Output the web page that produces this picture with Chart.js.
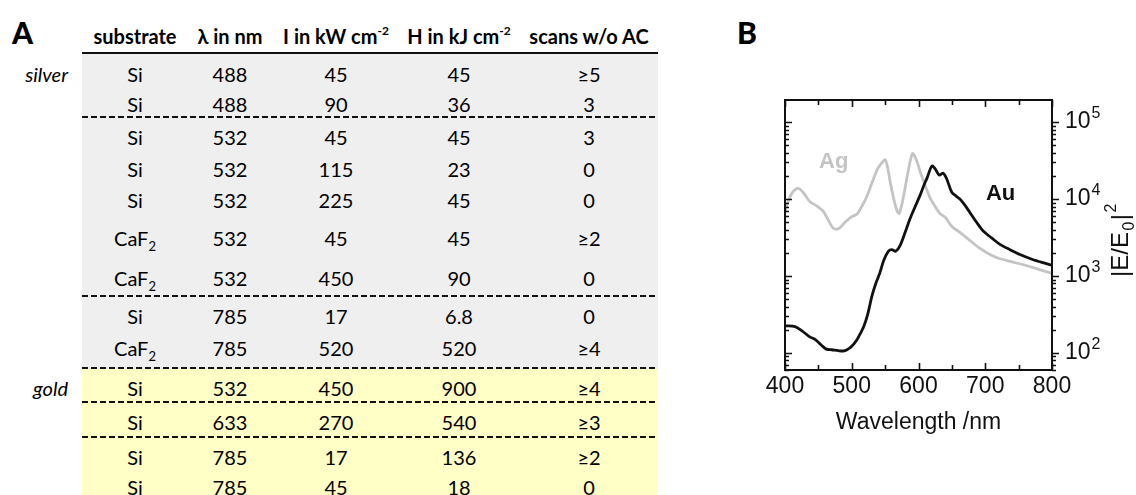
<!DOCTYPE html>
<html>
<head>
<meta charset="utf-8">
<script src="https://cdn.jsdelivr.net/npm/chart.js@4.4.1/dist/chart.umd.min.js"></script>
<style>
  body { margin: 0; width: 1136px; height: 495px; overflow: hidden; background: #fff; position: relative; font-family: Lato, "Open Sans", sans-serif; color: #000; }
  .panel { position: absolute; font-family: Lato, sans-serif; font-weight: 900; font-size: 30px; line-height: 30px; }
  .cell { position: absolute; width: 140px; margin-left: -70px; text-align: center; font-size: 20px; line-height: 24px; height: 24px; white-space: nowrap; }
  .hd { font-weight: 700; }
  .grp { position: absolute; left: 0; width: 68px; text-align: right; font-style: italic; font-size: 20px; line-height: 24px; }
  .sub { font-size: 13px; position: relative; top: 5px; }
  .sup { font-size: 12px; position: relative; top: -9px; }
  .band { position: absolute; left: 82px; width: 576px; }
  .dash { position: absolute; left: 82px; width: 576px; height: 2px; background: repeating-linear-gradient(90deg, #111 0 6px, transparent 6px 9px); }
  #chartBox { position: absolute; left: 700px; top: 60px; width: 436px; height: 435px; }
</style>
</head>
<body>
<div class="panel" style="left:12px;top:17px">A</div>
<div class="panel" style="left:737px;top:17px">B</div>
<div id="table"></div>
<div id="chartBox"><canvas id="spectrum-chart"></canvas></div>
<script>
// table A
const headers = ["substrate", "λ in nm", "I in kW cm<span class='sup'>-2</span>", "H in kJ cm<span class='sup'>-2</span>", "scans w/o AC"];
const metals = ["silver", "silver", "silver", "silver", "silver", "silver", "silver", "silver", "silver", "gold", "gold", "gold", "gold"];
const substrates = ["Si", "Si", "Si", "Si", "Si", "CaF2", "CaF2", "Si", "CaF2", "Si", "Si", "Si", "Si"];
const wavelengths = ["488", "488", "532", "532", "532", "532", "532", "785", "785", "532", "633", "785", "785"];
const intensities = ["45", "90", "45", "115", "225", "45", "450", "17", "520", "450", "270", "17", "45"];
const fluences = ["45", "36", "45", "23", "45", "45", "90", "6.8", "520", "900", "540", "136", "18"];
const scans = ["≥5", "3", "3", "0", "0", "≥2", "0", "0", "≥4", "≥4", "≥3", "≥2", "0"];
const breaksAfter = [1, 6, 8, 9, 10];

// chart B
const auWavelength = [400, 415, 425, 437, 445, 455, 462, 470, 480, 487, 493, 500, 507, 513, 518, 524, 530, 536, 542, 548, 555, 560, 566, 572, 580, 587, 595, 602, 608, 613, 620, 625, 631, 637, 642, 650, 656, 662, 670, 677, 687, 697, 710, 722, 737, 752, 770, 785, 800];
const auField = [225, 220, 195, 162, 150, 125, 112, 110, 107, 106, 110, 122, 145, 180, 220, 320, 540, 800, 1090, 1600, 2100, 2200, 2100, 2440, 3700, 5470, 8000, 11000, 15000, 19000, 26800, 24700, 20500, 21700, 18500, 12200, 11000, 10000, 8200, 6700, 5000, 3840, 3100, 2580, 2200, 1900, 1650, 1500, 1380];
const agWavelength = [400, 405, 412, 420, 428, 437, 447, 457, 465, 472, 480, 490, 500, 508, 515, 522, 530, 538, 543, 550, 554, 558, 563, 568, 571, 575, 580, 585, 591, 597, 603, 610, 617, 625, 632, 640, 650, 662, 675, 690, 705, 720, 740, 760, 780, 800];
const agField = [6800, 9500, 12500, 13800, 12000, 9300, 8200, 7000, 5300, 4200, 4100, 5000, 5900, 6400, 8000, 10500, 16000, 24000, 28000, 32500, 25000, 16000, 10000, 7000, 6500, 8500, 14000, 24000, 39000, 32000, 22000, 15000, 10500, 8000, 6500, 5800, 4400, 3700, 3000, 2350, 1950, 1700, 1530, 1380, 1220, 1080];
const xTicks = [400, 500, 600, 700, 800];
const decades = [100, 1000, 10000, 100000];

(function() {
  const table = document.getElementById("table");
  const colX = [135, 230, 336, 459, 589];
  const rowTop = [55, 85, 118, 150, 181, 219, 259, 297, 329, 369, 403, 438, 468];
  const add = (cls, style, html) => {
    const d = document.createElement("div");
    d.className = cls;
    d.setAttribute("style", style);
    d.innerHTML = html;
    table.appendChild(d);
  };
  add("band", "top:54px;height:315px;background:#efefef", "");
  add("band", "top:369px;height:126px;background:#ffffc6", "");
  add("band", "top:52px;height:2px;background:#111", "");
  headers.forEach((h, i) => add("cell hd", `left:${colX[i]}px;top:24px`, h));
  const sub = (s) => s.replace(/(\d)$/, "<span class='sub'>$1</span>");
  substrates.forEach((s, r) => {
    const top = rowTop[r] + 7;
    const vals = [sub(s), wavelengths[r], intensities[r], fluences[r], scans[r]];
    vals.forEach((v, c) => add("cell", `left:${colX[c]}px;top:${top}px`, v));
    if (r === 0 || metals[r] !== metals[r - 1]) add("grp", `top:${top}px`, metals[r]);
  });
  breaksAfter.forEach((r) => add("dash", `top:${rowTop[r + 1] - 2}px`, ""));
})();

(function() {
  const ctx = document.getElementById("spectrum-chart").getContext("2d");
  const axisFont = "23px 'Liberation Sans', Arial, sans-serif";

  const framePlugin = {
    id: "frame",
    afterDraw(chart) {
      const c = chart.ctx, a = chart.chartArea;
      const xs = chart.scales.x, ys = chart.scales.y;
      c.save();
      c.strokeStyle = "#111";
      c.fillStyle = "#111";
      c.lineWidth = 2;
      c.strokeRect(a.left, a.top, a.right - a.left, a.bottom - a.top);
      c.lineWidth = 1.6;
      c.beginPath();
      for (let v = xs.min; v <= xs.max; v += 50) {
        const px = Math.round(xs.getPixelForValue(v)) + 0.5;
        const len = xTicks.includes(v) ? 7 : 5;
        c.moveTo(px, a.bottom); c.lineTo(px, a.bottom - len);
        c.moveTo(px, a.top); c.lineTo(px, a.top + len);
      }
      [10].concat(decades).forEach((d) => {
        for (let m = 1; m < 10; m++) {
          const v = d * m;
          if (v < ys.min || v > ys.max) continue;
          const py = Math.round(ys.getPixelForValue(v)) + 0.5;
          const len = m === 1 ? 7 : 4;
          c.moveTo(a.left, py); c.lineTo(a.left + len, py);
          c.moveTo(a.right, py); c.lineTo(a.right + len, py);
        }
      });
      c.stroke();

      // right tick labels 10^n
      decades.forEach((d) => {
        const py = ys.getPixelForValue(d);
        c.font = axisFont;
        c.textAlign = "left";
        c.textBaseline = "alphabetic";
        c.fillText("10", a.right + 13, py + 6);
        const w = c.measureText("10").width;
        c.font = "16px 'Liberation Sans', Arial, sans-serif";
        c.fillText(String(Math.round(Math.log10(d))), a.right + 14 + w, py - 4);
      });

      // right axis title |E/E0|^2, rotated
      c.translate(a.right + 76, (a.top + a.bottom) / 2 + 42);
      c.rotate(-Math.PI / 2);
      const parts = [["|E/E", 24, 0], ["0", 16, 6], ["|", 24, 0], ["2", 16, -12]];
      let tx = 0;
      parts.forEach(([t, size, dy]) => {
        c.font = `${size}px 'Liberation Sans', Arial, sans-serif`;
        c.fillText(t, tx, dy);
        tx += c.measureText(t).width + 1.5;
      });
      c.restore();

      // series labels
      c.save();
      c.font = "bold 22px 'Liberation Sans', Arial, sans-serif";
      c.textAlign = "center";
      c.textBaseline = "middle";
      c.fillStyle = "#c4c4c4";
      c.fillText("Ag", xs.getPixelForValue(473), ys.getPixelForValue(30500));
      c.fillStyle = "#111";
      c.fillText("Au", xs.getPixelForValue(723), ys.getPixelForValue(11600));
      c.restore();
    }
  };

  new Chart(ctx, {
    type: "line",
    data: {
      datasets: [
        {
          label: "Au",
          data: auWavelength.map((x, i) => ({ x, y: auField[i] })),
          borderColor: "#111",
          borderWidth: 2.8,
          pointRadius: 0,
          tension: 0.3,
          fill: false
        },
        {
          label: "Ag",
          data: agWavelength.map((x, i) => ({ x, y: agField[i] })),
          borderColor: "#c4c4c4",
          borderWidth: 2.8,
          pointRadius: 0,
          tension: 0.3,
          fill: false
        }
      ]
    },
    options: {
      responsive: true,
      maintainAspectRatio: false,
      animation: false,
      layout: { padding: { left: 85, top: 40, right: 0, bottom: 0 } },
      plugins: { legend: { display: false }, tooltip: { enabled: false } },
      scales: {
        x: {
          type: "linear",
          position: "bottom",
          min: 400,
          max: 800,
          grid: { display: false, drawTicks: false },
          border: { display: false },
          ticks: { stepSize: 100, padding: 3, color: "#111", font: { family: "'Liberation Sans', Arial, sans-serif", size: 23 } },
          title: { display: true, text: "Wavelength /nm", color: "#111", padding: { top: 0, bottom: 59 }, font: { family: "'Liberation Sans', Arial, sans-serif", size: 23 } },
          afterFit(scale) { scale.height = 125; }
        },
        y: {
          type: "logarithmic",
          position: "right",
          min: 60,
          max: 194000,
          grid: { display: false, drawTicks: false },
          border: { display: false },
          ticks: { display: false },
          afterFit(scale) { scale.width = 84; }
        }
      }
    },
    plugins: [framePlugin]
  });
})();
</script>
</body>
</html>
